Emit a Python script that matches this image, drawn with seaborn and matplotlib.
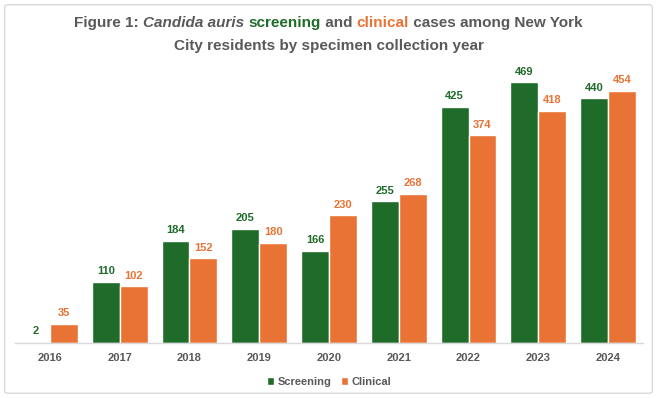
import matplotlib
matplotlib.use("Agg")
import matplotlib.pyplot as plt
import seaborn as sns
import pandas as pd
from matplotlib.patches import FancyBboxPatch
from matplotlib import font_manager

years = ["2016", "2017", "2018", "2019", "2020", "2021", "2022", "2023", "2024"]
screening = [2, 110, 184, 205, 166, 255, 425, 469, 440]
clinical = [35, 102, 152, 180, 230, 268, 374, 418, 454]
series_names = ["Screening", "Clinical"]

GREEN = "#1f6b29"
ORANGE = "#e97335"
GRAY = "#595959"

sns.set_theme(style="white")
names = {f.name for f in font_manager.fontManager.ttflist}
fam = "Liberation Sans Narrow" if "Liberation Sans Narrow" in names else "Liberation Sans"
plt.rcParams["font.family"] = [fam, "DejaVu Sans"]

df = pd.DataFrame({
    "year": years * 2,
    "value": screening + clinical,
    "series": [series_names[0]] * len(years) + [series_names[1]] * len(years),
})

fig = plt.figure(figsize=(6.57, 3.98), dpi=100)
border = FancyBboxPatch((0.007, 0.012), 0.986, 0.976, boxstyle="round,pad=0,rounding_size=0.006",
                        transform=fig.transFigure, facecolor="none", edgecolor="#d9d9d9", lw=1.0,
                        zorder=-1)
fig.patches.append(border)

ax = fig.add_axes([15 / 657, 55 / 398, 628 / 657, 278 / 398])
ax.set_facecolor("none")
sns.barplot(data=df, x="year", y="value", hue="series", palette=[GREEN, ORANGE],
            width=0.8, saturation=1, ax=ax, legend=True)

ax.set_ylim(0, 500)
ax.set_xlim(-0.5, len(years) - 0.5)
ax.set_yticks([])
ax.set_xlabel("")
ax.set_ylabel("")
for s in ["top", "left", "right"]:
    ax.spines[s].set_visible(False)
ax.spines["bottom"].set_color("#d9d9d9")
ax.spines["bottom"].set_linewidth(1.0)
ax.tick_params(axis="x", length=0, pad=7)
for lbl in ax.get_xticklabels():
    lbl.set_fontsize(8)
    lbl.set_fontweight("bold")
    lbl.set_color(GRAY)

for cont, col in zip(ax.containers, [GREEN, ORANGE]):
    ax.bar_label(cont, padding=4, fontsize=8, fontweight="bold", color=col)

leg = ax.legend(loc="upper center", bbox_to_anchor=(0.5, -0.085), ncol=2, frameon=False,
                fontsize=8, handlelength=0.7, handleheight=0.7, handletextpad=0.3,
                columnspacing=0.8)
for t in leg.get_texts():
    t.set_color(GRAY)
    t.set_fontweight("bold")

# Title with mixed styles
fig.canvas.draw()
renderer = fig.canvas.get_renderer()
def draw_line(pieces, y):
    texts = []
    for s, color, style in pieces:
        t = fig.text(0, y, s, fontsize=11, fontweight="bold", color=color, style=style,
                     va="baseline", ha="left", transform=None)
        texts.append(t)
    widths = [t.get_window_extent(renderer).width for t in texts]
    total = sum(widths)
    x = 657 / 2 - total / 2
    for t, w in zip(texts, widths):
        t.set_position((x, y))
        x += w

line1 = [("Figure 1: ", GRAY, "normal"), ("Candida auris", GRAY, "italic"), (" ", GRAY, "normal"),
         ("screening", GREEN, "normal"), (" and ", GRAY, "normal"), ("clinical", ORANGE, "normal"),
         (" cases among New York", GRAY, "normal")]
line2 = [("City residents by specimen collection year", GRAY, "normal")]
draw_line(line1, 398 - 27)
draw_line(line2, 398 - 50)

fig.savefig("out.png", dpi=100)
